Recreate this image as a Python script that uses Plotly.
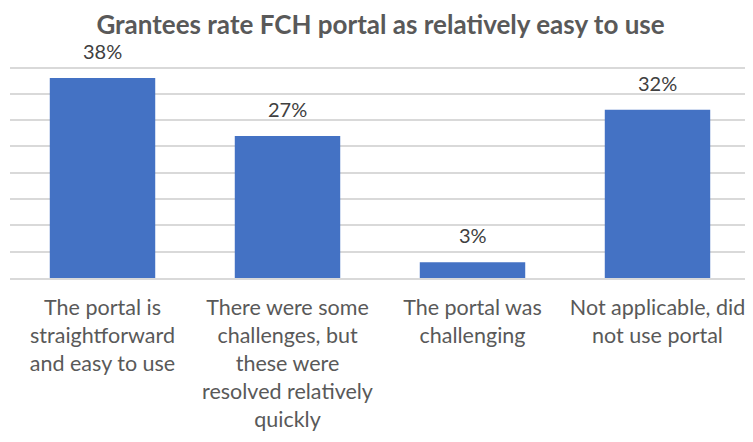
import plotly.graph_objects as go

categories = [
    "The portal is<br>straightforward<br>and easy to use",
    "There were some<br>challenges, but<br>these were<br>resolved relatively<br>quickly",
    "The portal was<br>challenging",
    "Not applicable, did<br>not use portal",
]
values = [38, 27, 3, 32]
labels = ["38%", "27%", "3%", "32%"]
title = "Grantees rate FCH portal as relatively easy to use"

grey = "#595959"
font_family = "Lato, 'Open Sans', sans-serif"

fig = go.Figure(
    go.Bar(
        x=categories,
        y=values,
        marker=dict(color="#4472C4", line=dict(width=0)),
        width=0.57,
        hoverinfo="skip",
    )
)

for c, v, t in zip(categories, values, labels):
    fig.add_annotation(
        x=c, y=v, text=t, showarrow=False, yanchor="bottom", yshift=13,
        font=dict(size=20, color="#404040", family=font_family),
    )

# page has an 8px body margin, so the figure is sized 745x434
fig.update_layout(
    width=745,
    height=434,
    margin=dict(l=2, r=3, t=58, b=164, autoexpand=False),
    paper_bgcolor="white",
    plot_bgcolor="white",
    showlegend=False,
    title=dict(
        text="<b>" + title + "</b>",
        x=0.5, xanchor="center", y=0.962, yanchor="middle",
        font=dict(size=26, color=grey, family=font_family),
    ),
    font=dict(family=font_family, color=grey),
    xaxis=dict(
        showline=True, linecolor="#D9D9D9", linewidth=2,
        tickfont=dict(size=21.5, color=grey, family=font_family),
        ticks="outside", ticklen=9, tickcolor="rgba(0,0,0,0)",
        showgrid=False, fixedrange=True, automargin=False,
    ),
    yaxis=dict(
        range=[0, 40.3], dtick=5, showticklabels=False,
        showgrid=True, gridcolor="#D9D9D9", gridwidth=2,
        zeroline=False, showline=False, fixedrange=True, automargin=False,
    ),
)

fig.write_html("out.html")
